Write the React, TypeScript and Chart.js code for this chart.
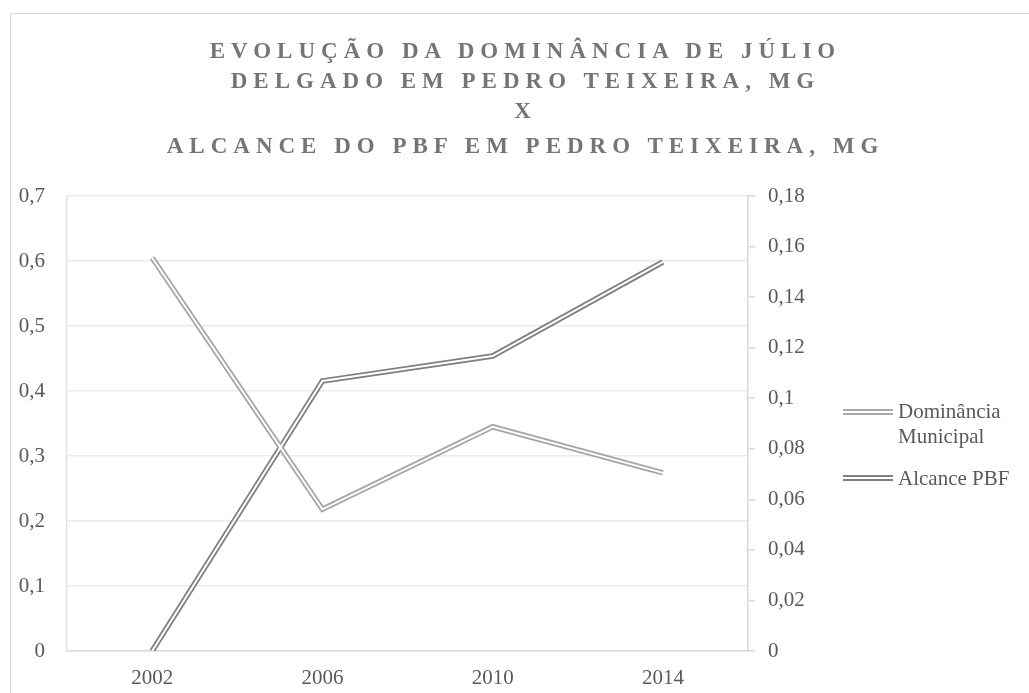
import React, { useEffect, useRef } from "react";
import { Chart, registerables } from "chart.js";

Chart.register(...registerables);

const years = ["2002", "2006", "2010", "2014"];
const dominancia = [0.605, 0.218, 0.345, 0.274];
const alcance = [0, 0.1068, 0.1167, 0.1539];
const titleLines = [
  "EVOLUÇÃO DA DOMINÂNCIA DE JÚLIO",
  "DELGADO EM PEDRO TEIXEIRA, MG",
  "X",
  "ALCANCE DO PBF EM PEDRO TEIXEIRA, MG",
];
const legendDominancia = ["Dominância", "Municipal"];
const legendAlcance = "Alcance PBF";

const COL_DOM = "#a6a6a6";
const COL_ALC = "#7f7f7f";
const TEXT = "#595959";
const FONT = "'Liberation Serif', serif";

export default function App() {
  const ref = useRef<HTMLCanvasElement | null>(null);

  useEffect(() => {
    if (!ref.current) return;
    const chart = new Chart(ref.current, {
      type: "line",
      data: {
        labels: years,
        datasets: [
          { label: "dom-w", data: dominancia, yAxisID: "y", borderColor: "#ffffff", borderWidth: 2, pointRadius: 0, order: 0, borderCapStyle: "butt" },
          { label: "alc-w", data: alcance, yAxisID: "y1", borderColor: "#ffffff", borderWidth: 2, pointRadius: 0, order: 0, borderCapStyle: "butt" },
          { label: "Dominância Municipal", data: dominancia, yAxisID: "y", borderColor: COL_DOM, borderWidth: 5.5, pointRadius: 0, order: 1, borderCapStyle: "butt" },
          { label: "Alcance PBF", data: alcance, yAxisID: "y1", borderColor: COL_ALC, borderWidth: 5.5, pointRadius: 0, order: 1, borderCapStyle: "butt" },
        ],
      },
      options: {
        animation: false,
        responsive: false,
        maintainAspectRatio: false,
        layout: { padding: { top: 196, left: 0, right: 0, bottom: 0 } },
        plugins: { legend: { display: false }, title: { display: false }, tooltip: { enabled: false } },
        scales: {
          x: {
            type: "category",
            offset: true,
            grid: { display: false, drawTicks: false },
            border: { display: true, color: "#d9d9d9", width: 1.5 },
            ticks: { color: TEXT, font: { family: FONT, size: 21 }, padding: 15, maxRotation: 0 },
            afterFit: (s: any) => { s.height = 42; },
          },
          y: {
            position: "left",
            min: 0,
            max: 0.7,
            ticks: {
              stepSize: 0.1,
              color: TEXT,
              font: { family: FONT, size: 21 },
              padding: 22,
              callback: (v: any) => String(Math.round(Number(v) * 10) / 10).replace(".", ","),
            },
            grid: { color: "#ebebeb", lineWidth: 1.5, drawTicks: false },
            border: { display: true, color: "#e3e3e3", width: 1.5 },
            afterFit: (s: any) => { s.width = 67; },
          },
          y1: {
            position: "right",
            min: 0,
            max: 0.18,
            ticks: {
              stepSize: 0.02,
              color: TEXT,
              font: { family: FONT, size: 21 },
              padding: 13,
              callback: (v: any) => String(Math.round(Number(v) * 100) / 100).replace(".", ","),
            },
            grid: { drawOnChartArea: false, drawTicks: true, tickLength: 7, color: "#d9d9d9", lineWidth: 1.5 },
            border: { display: true, color: "#d9d9d9", width: 1.5 },
            afterFit: (s: any) => { s.width = 281; },
          },
        },
      },
    });
    return () => chart.destroy();
  }, []);

  const legendSym = (color: string, top: number) => (
    <div
      style={{
        position: "absolute",
        left: 843,
        top,
        width: 50,
        height: 2,
        borderTop: `2px solid ${color}`,
        borderBottom: `2px solid ${color}`,
      }}
    />
  );

  return (
    <div style={{ position: "absolute", left: 0, top: 0, width: 1029, height: 693, background: "#fff", overflow: "hidden" }}>
      <div style={{ position: "absolute", left: 10, top: 13, width: 1100, height: 800, border: "1.5px solid #d9d9d9", boxSizing: "border-box" }} />
      <canvas ref={ref} width={1029} height={693} style={{ position: "absolute", left: 0, top: 0, width: 1029, height: 693 }} />
      <div
        style={{
          position: "absolute",
          left: 16,
          width: 1019,
          top: 36,
          textAlign: "center",
          fontFamily: FONT,
          fontWeight: "bold",
          fontSize: 23,
          lineHeight: "30px",
          letterSpacing: "6px",
          color: "#757575",
        }}
      >
        {titleLines.map((t, i) => (
          <div key={i} style={{ marginTop: i === 3 ? 5 : 0 }}>{t}</div>
        ))}
      </div>
      {legendSym(COL_DOM, 409)}
      {legendSym(COL_ALC, 475)}
      <div style={{ position: "absolute", left: 898, top: 399, fontFamily: FONT, fontSize: 21, lineHeight: "25px", color: TEXT }}>
        {legendDominancia.map((t, i) => (
          <div key={i}>{t}</div>
        ))}
      </div>
      <div style={{ position: "absolute", left: 898, top: 466, fontFamily: FONT, fontSize: 21, lineHeight: "25px", color: TEXT, whiteSpace: "nowrap" }}>
        {legendAlcance}
      </div>
    </div>
  );
}
